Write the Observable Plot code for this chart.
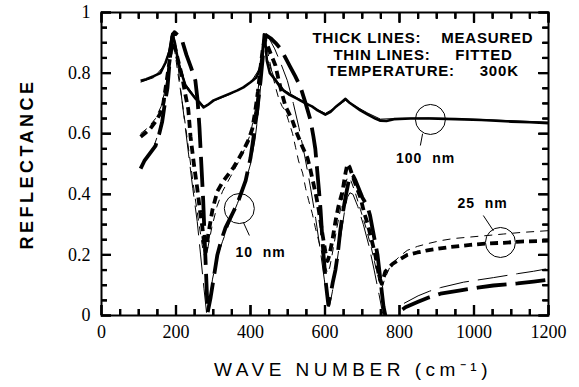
<!DOCTYPE html>
<html>
<head>
<meta charset="utf-8">
<script src="https://cdn.jsdelivr.net/npm/d3@7"></script>
<script src="https://cdn.jsdelivr.net/npm/@observablehq/plot@0.6"></script>
<style>
  html, body { margin: 0; padding: 0; background: #fff; }
</style>
</head>
<body>
<script>
// ---- tick values ----
const xMajor = [0, 200, 400, 600, 800, 1000, 1200];
const xMinor = [50,100,150,250,300,350,450,500,550,650,700,750,850,900,950,1050,1100,1150];
const yMajor = [0, 0.2, 0.4, 0.6, 0.8, 1];
const yMinor = [0.05,0.1,0.15,0.25,0.3,0.35,0.45,0.5,0.55,0.65,0.7,0.75,0.85,0.9,0.95];
const yTickLabels = ["0", "0.2", "0.4", "0.6", "0.8", "1"];

// ---- 100 nm: measured (thick solid) and fitted (thin solid) ----
const measured100 = [[105,0.775],[120,0.78],[140,0.79],[158,0.80],[172,0.835],[182,0.87],[190,0.93],[197,0.90],[207,0.83],[225,0.76],[240,0.735],[252,0.716],[262,0.705],[274,0.687],[285,0.695],[301,0.71],[320,0.72],[346,0.733],[365,0.743],[381,0.753],[400,0.77],[415,0.785],[421,0.80],[427,0.825],[432,0.87],[436,0.928],[440,0.90],[444,0.84],[452,0.80],[462,0.785],[475,0.762],[489,0.742],[505,0.728],[526,0.715],[548,0.70],[565,0.69],[580,0.677],[601,0.663],[615,0.672],[630,0.69],[645,0.705],[655,0.715],[665,0.703],[680,0.69],[695,0.677],[715,0.663],[735,0.65],[749,0.643],[765,0.642],[785,0.648],[830,0.65],[880,0.65],[950,0.648],[1020,0.645],[1100,0.64],[1150,0.638],[1200,0.635]];
const fitted100 = [[105,0.77],[140,0.785],[172,0.83],[190,0.925],[200,0.87],[225,0.765],[252,0.72],[276,0.69],[301,0.708],[346,0.73],[400,0.768],[427,0.82],[437,0.92],[444,0.85],[462,0.79],[489,0.745],[526,0.718],[580,0.68],[601,0.667],[630,0.688],[655,0.71],[680,0.692],[715,0.668],[749,0.648],[785,0.65],[880,0.652],[1020,0.647],[1200,0.638]];

// ---- 25 nm: measured (thick short dash) and fitted (thin short dash) ----
const measured25 = [[105,0.59],[120,0.605],[131,0.617],[145,0.64],[157,0.665],[166,0.70],[172,0.75],[178,0.80],[185,0.86],[190,0.90],[196,0.89],[204,0.85],[212,0.81],[217,0.785],[225,0.73],[233,0.68],[239,0.59],[248,0.50],[257,0.42],[265,0.34],[271,0.29],[276,0.23],[280,0.21],[287,0.27],[298,0.35],[311,0.41],[325,0.44],[337,0.46],[355,0.49],[365,0.51],[381,0.545],[395,0.58],[405,0.617],[413,0.677],[420,0.74],[427,0.82],[433,0.88],[438,0.91],[446,0.89],[454,0.865],[467,0.825],[476,0.775],[485,0.73],[494,0.69],[512,0.645],[525,0.60],[540,0.555],[553,0.52],[561,0.48],[569,0.435],[577,0.39],[583,0.35],[593,0.27],[601,0.21],[607,0.18],[612,0.20],[620,0.25],[628,0.31],[636,0.36],[647,0.41],[655,0.47],[660,0.50],[666,0.49],[680,0.44],[695,0.39],[705,0.34],[715,0.30],[725,0.25],[735,0.20],[745,0.13],[752,0.105],[756,0.12],[762,0.145],[781,0.17],[800,0.185],[821,0.20],[848,0.208],[875,0.215],[929,0.225],[990,0.233],[1040,0.238],[1080,0.24],[1125,0.244],[1200,0.247]];
const fitted25 = [[105,0.60],[125,0.62],[145,0.65],[160,0.69],[172,0.75],[182,0.84],[190,0.915],[197,0.87],[205,0.80],[215,0.72],[225,0.63],[237,0.52],[250,0.40],[262,0.30],[272,0.22],[278,0.19],[285,0.22],[296,0.29],[310,0.36],[325,0.41],[345,0.455],[365,0.50],[385,0.55],[400,0.60],[413,0.68],[423,0.77],[432,0.86],[440,0.905],[448,0.86],[458,0.80],[468,0.75],[476,0.715],[485,0.69],[494,0.675],[502,0.643],[513,0.60],[521,0.555],[529,0.51],[540,0.47],[548,0.42],[556,0.38],[566,0.336],[574,0.29],[583,0.247],[593,0.20],[601,0.16],[607,0.14],[613,0.16],[622,0.22],[632,0.29],[643,0.36],[652,0.42],[660,0.455],[668,0.45],[680,0.41],[695,0.35],[710,0.29],[725,0.22],[738,0.15],[748,0.10],[753,0.09],[760,0.12],[776,0.165],[800,0.195],[821,0.215],[848,0.228],[875,0.237],[910,0.247],[945,0.254],[990,0.259],[1036,0.264],[1080,0.269],[1125,0.274],[1200,0.28]];

// ---- 10 nm: measured (thick long dash) and fitted (thin long dash) ----
const measured10 = [[105,0.485],[115,0.51],[130,0.535],[145,0.56],[155,0.60],[163,0.64],[170,0.70],[177,0.75],[183,0.84],[190,0.92],[196,0.935],[205,0.925],[217,0.905],[228,0.86],[240,0.82],[252,0.775],[258,0.71],[263,0.62],[268,0.50],[273,0.38],[278,0.22],[282,0.10],[285,0.01],[293,0.06],[302,0.13],[311,0.20],[322,0.25],[333,0.29],[345,0.32],[355,0.345],[365,0.37],[387,0.445],[400,0.52],[408,0.587],[418,0.677],[427,0.775],[432,0.84],[436,0.89],[442,0.925],[454,0.915],[467,0.90],[481,0.88],[494,0.85],[507,0.82],[520,0.79],[534,0.755],[548,0.70],[561,0.645],[569,0.59],[574,0.55],[579,0.48],[584,0.41],[588,0.35],[592,0.27],[596,0.20],[602,0.11],[609,0.035],[615,0.07],[621,0.11],[628,0.15],[634,0.20],[641,0.28],[648,0.34],[655,0.39],[663,0.44],[670,0.465],[676,0.46],[682,0.445],[700,0.39],[714,0.36],[721,0.33],[727,0.29],[734,0.245],[741,0.20],[749,0.115],[757,0.03],[762,0.0],[772,null],[808,0.02],[816,0.027],[850,0.045],[880,0.06],[910,0.072],[964,0.083],[1010,0.092],[1052,0.099],[1117,0.106],[1160,0.112],[1200,0.118]];
const fitted10 = [[110,0.50],[125,0.525],[140,0.555],[155,0.61],[167,0.68],[178,0.78],[186,0.88],[192,0.935],[198,0.90],[205,0.83],[212,0.75],[223,0.64],[234,0.53],[245,0.42],[257,0.31],[266,0.20],[275,0.09],[282,0.01],[290,0.05],[298,0.12],[310,0.19],[325,0.245],[345,0.31],[365,0.37],[385,0.435],[400,0.50],[412,0.58],[422,0.68],[430,0.80],[437,0.90],[442,0.93],[452,0.91],[465,0.88],[482,0.83],[499,0.775],[515,0.70],[530,0.62],[545,0.53],[560,0.43],[575,0.32],[588,0.21],[598,0.12],[606,0.05],[612,0.03],[620,0.08],[630,0.16],[642,0.26],[652,0.34],[660,0.39],[667,0.405],[675,0.40],[688,0.36],[703,0.30],[718,0.23],[732,0.15],[745,0.07],[756,0.0],[770,null],[812,0.04],[850,0.065],[880,0.08],[910,0.092],[972,0.11],[1052,0.125],[1117,0.138],[1160,0.146],[1200,0.155]];

// ---- annotations (circled sample labels) ----
const annotText = ["10\u00a0 nm", "100\u00a0 nm", "25\u00a0 nm"];
const annotTextX = [427, 870, 1023];
const annotTextY = [0.208, 0.518, 0.37];
const circleX = [370, 883, 1071];
const circleY = [0.353, 0.647, 0.241];
const leaderX1 = [381, 862, 1025];
const leaderY1 = [0.307, 0.60, 0.33];
const leaderX2 = [397, 856, 1052];
const leaderY2 = [0.264, 0.561, 0.28];

const legendLines = "THICK LINES:\u00a0\u00a0\u00a0 MEASURED\nTHIN LINES:\u00a0\u00a0\u00a0\u00a0 FITTED\nTEMPERATURE:\u00a0\u00a0\u00a0\u00a0 300K";
const xTitle = "WAVE NUMBER (cm\u207B\u00B9)";
const yTitle = "REFLECTANCE";

const idx = [0, 1, 2];
const sans = "Liberation Sans, Arial, Helvetica, sans-serif";
const serif = "Liberation Serif, Times New Roman, serif";

const W = 579, H = 387, ML = 101, MR = 31, MT = 12, MB = 72;
const innerH = H - MT - MB, innerW = W - ML - MR;
const majorLen = 10, minorLen = 6;

const lineCommon = {stroke: "black", fill: "none", strokeLinecap: "butt", strokeLinejoin: "round"};
const tickStyle = {stroke: "black", strokeWidth: 2.2};
const noLabel = () => "";

// inward ticks drawn by axis marks: outward ticks shifted inward by their own length
function inwardX(vals, len, anchor) {
  return Plot.axisX(vals, {anchor, tickSize: len, dy: anchor === "bottom" ? -len : len, tickFormat: noLabel, ...tickStyle});
}
function inwardY(vals, len, anchor) {
  return Plot.axisY(vals, {anchor, tickSize: len, dx: anchor === "left" ? len : -len, tickFormat: noLabel, ...tickStyle});
}

const chart = Plot.plot({
  width: W,
  height: H,
  marginLeft: ML,
  marginRight: MR,
  marginTop: MT,
  marginBottom: MB,
  x: {domain: [0, 1200]},
  y: {domain: [0, 1]},
  style: {fontFamily: serif, background: "white", color: "black", overflow: "visible"},
  marks: [
    Plot.frame({stroke: "black", strokeWidth: 2}),
    // tick labels
    Plot.axisX(xMajor, {anchor: "bottom", tickSize: 0, tickPadding: 10, fontSize: 18, fontFamily: serif, tickFormat: d => String(d)}),
    Plot.axisY(yMajor, {anchor: "left", tickSize: 0, tickPadding: 11, fontSize: 18, fontFamily: serif, tickFormat: (d, i) => yTickLabels[i]}),
    // inward ticks on all four sides
    inwardX(xMajor, majorLen, "bottom"),
    inwardX(xMinor, minorLen, "bottom"),
    inwardX(xMajor, majorLen, "top"),
    inwardX(xMinor, minorLen, "top"),
    inwardY(yMajor, majorLen, "left"),
    inwardY(yMinor, minorLen, "left"),
    inwardY(yMajor, majorLen, "right"),
    inwardY(yMinor, minorLen, "right"),
    Plot.tickX(xMajor, {x: d => d, insetTop: innerH - majorLen, ...tickStyle}),
    Plot.tickX(xMinor, {x: d => d, insetTop: innerH - minorLen, ...tickStyle}),
    Plot.tickX(xMajor, {x: d => d, insetBottom: innerH - majorLen, ...tickStyle}),
    Plot.tickX(xMinor, {x: d => d, insetBottom: innerH - minorLen, ...tickStyle}),
    Plot.tickY(yMajor, {y: d => d, insetRight: innerW - majorLen, ...tickStyle}),
    Plot.tickY(yMinor, {y: d => d, insetRight: innerW - minorLen, ...tickStyle}),
    Plot.tickY(yMajor, {y: d => d, insetLeft: innerW - majorLen, ...tickStyle}),
    Plot.tickY(yMinor, {y: d => d, insetLeft: innerW - minorLen, ...tickStyle}),

    // fitted (thin) lines
    Plot.line(fitted100, {...lineCommon, strokeWidth: 1}),
    Plot.line(fitted25, {...lineCommon, strokeWidth: 1, strokeDasharray: "8,6"}),
    Plot.line(fitted10, {...lineCommon, strokeWidth: 1, strokeDasharray: "30,9"}),

    // measured (thick) lines
    Plot.line(measured100, {...lineCommon, strokeWidth: 2.6}),
    Plot.line(measured25, {...lineCommon, strokeWidth: 3.8, strokeDasharray: "8,5"}),
    Plot.line(measured10, {...lineCommon, strokeWidth: 3.8, strokeDasharray: "30,9"}),

    // annotation circles, leaders and labels
    Plot.dot(idx, {x: i => circleX[i], y: i => circleY[i], r: 15, stroke: "black", strokeWidth: 1, fill: "none"}),
    Plot.link(idx, {x1: i => leaderX1[i], y1: i => leaderY1[i], x2: i => leaderX2[i], y2: i => leaderY2[i], stroke: "black", strokeWidth: 1}),
    Plot.text(idx, {x: i => annotTextX[i], y: i => annotTextY[i], text: i => annotText[i], fontFamily: sans, fontSize: 14, fontWeight: "bold", fill: "black"}),

    // legend block
    Plot.text([legendLines], {frameAnchor: "top", textAnchor: "middle", dx: 98, dy: 19, lineAnchor: "top", lineHeight: 1.1, fontFamily: sans, fontSize: 15, fontWeight: "bold", fill: "black"}),

    // axis titles
    Plot.text([xTitle], {frameAnchor: "bottom", textAnchor: "middle", lineAnchor: "middle", dx: 28, dy: 54, fontFamily: sans, fontSize: 19, fill: "black"}),
    Plot.text([yTitle], {frameAnchor: "left", textAnchor: "middle", lineAnchor: "middle", dx: -74, rotate: -90, fontFamily: sans, fontSize: 18, fontWeight: "bold", fill: "black"})
  ]
});
document.body.appendChild(chart);

// letter spacing for the titles and labels (styling only)
d3.select(chart).selectAll("text").each(function () {
  const t = this.textContent;
  if (t === xTitle) this.style.letterSpacing = "4.5px";
  else if (t === yTitle) this.style.letterSpacing = "3.5px";
  else if (t.startsWith("THICK")) this.style.letterSpacing = "0.8px";
  else if (annotText.includes(t)) this.style.letterSpacing = "1px";
});
</script>
</body>
</html>
